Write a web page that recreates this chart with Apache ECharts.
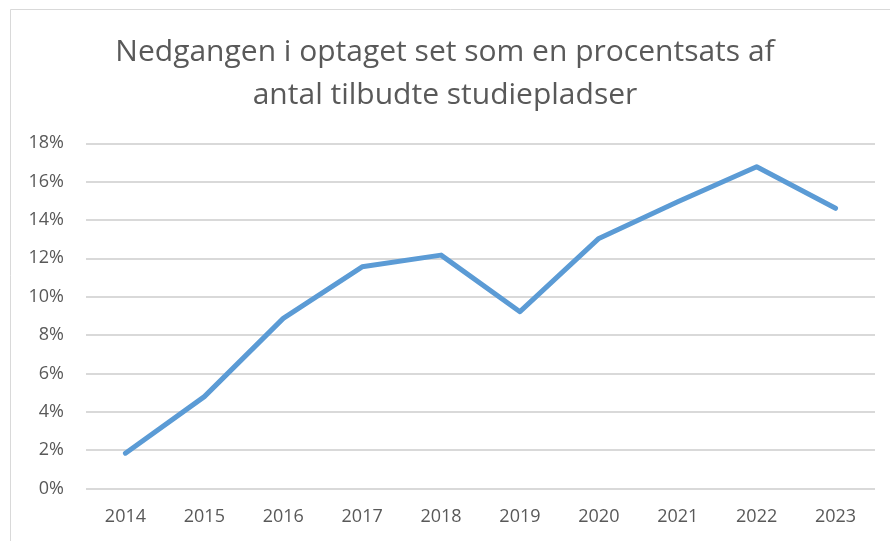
<!DOCTYPE html>
<html>
<head>
<meta charset="utf-8">
<script src="https://cdn.jsdelivr.net/npm/echarts@6/dist/echarts.min.js"></script>
<style>
  html, body { margin: 0; padding: 0; background: #fff; }
  #chart { width: 890px; height: 541px; }
</style>
</head>
<body>
<div id="chart"></div>
<script>
const years = ['2014', '2015', '2016', '2017', '2018', '2019', '2020', '2021', '2022', '2023'];
const decline = [1.84, 4.79, 8.87, 11.56, 12.17, 9.22, 13.04, 14.95, 16.78, 14.61];
const titleText = 'Nedgangen i optaget set som en procentsats af\nantal tilbudte studiepladser';

const chart = echarts.init(document.getElementById('chart'));

chart.setOption({
  backgroundColor: '#fff',
  animation: false,
  textStyle: { fontFamily: 'Open Sans' },
  title: {
    text: titleText,
    left: 'center',
    top: 26,
    textStyle: {
      color: '#595959',
      fontSize: 30,
      fontWeight: 'normal',
      fontFamily: 'Open Sans',
      lineHeight: 43
    }
  },
  graphic: [{
    type: 'rect',
    shape: { x: 10.5, y: 9.5, width: 900, height: 560 },
    style: { fill: 'none', stroke: '#d9d9d9', lineWidth: 1 },
    silent: true
  }],
  grid: {
    left: 86,
    right: 15,
    top: 143.3,
    bottom: 541 - 488.5
  },
  xAxis: {
    type: 'category',
    data: years,
    boundaryGap: true,
    axisLine: { show: false },
    axisTick: { show: false },
    axisLabel: {
      color: '#595959',
      fontSize: 18,
      margin: 19
    }
  },
  yAxis: {
    type: 'value',
    min: 0,
    max: 18,
    interval: 2,
    axisLine: { show: false },
    axisTick: { show: false },
    axisLabel: {
      color: '#595959',
      fontSize: 18,
      margin: 22,
      formatter: v => v + '%'
    },
    splitLine: { lineStyle: { color: '#d9d9d9', width: 2 } }
  },
  series: [{
    type: 'line',
    data: decline,
    symbol: 'none',
    smooth: false,
    lineStyle: { color: '#5b9bd5', width: 5, cap: 'round', join: 'round' }
  }]
});
</script>
</body>
</html>
